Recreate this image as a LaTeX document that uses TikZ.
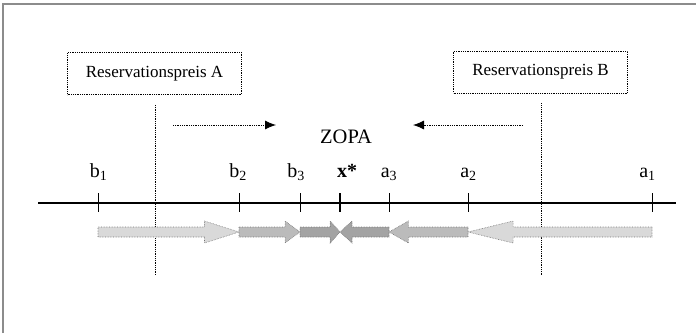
\documentclass[tikz,border=0pt]{standalone}
\usepackage{fontspec}
\setmainfont{Liberation Serif}
\usetikzlibrary{positioning,calc,arrows.meta}
\definecolor{lightfill}{HTML}{D9D9D9}
\definecolor{midfill}{HTML}{BBBBBB}
\definecolor{darkfill}{HTML}{A3A3A3}
\tikzset{
  limitbox/.style   = {draw, densely dotted, line width=0.8pt,
                       minimum width=174pt, minimum height=42pt,
                       font=\fontsize{17}{20}\selectfont},
  limitline/.style  = {densely dotted, line width=0.8pt},
  zopaarrow/.style  = {densely dotted, line width=0.8pt,
                       -{Latex[length=11pt,width=9pt]}},
  blockarrow/.style = {draw=black!55, densely dotted, line width=0.6pt},
  ticklabel/.style  = {anchor=base, inner sep=0pt, font=\fontsize{20}{24}\selectfont},
  axisline/.style   = {line width=1.1pt},
  frameline/.style  = {draw=black!45, line width=2pt},
}
\newcommand{\zoparrow}[3]{%
  \draw[blockarrow, fill=#3]
    ($(#1)+(0,-5)$) -- ($(#1)!0.755!(#2)+(0,-5)$) -- ($(#1)!0.755!(#2)+(0,-11)$)
    -- (#2) -- ($(#1)!0.755!(#2)+(0,11)$) -- ($(#1)!0.755!(#2)+(0,5)$)
    -- ($(#1)+(0,5)$) -- cycle;}

\begin{document}
\begin{tikzpicture}[x=1pt, y=-1pt]
    \useasboundingbox (0,0) rectangle (696,333);
    \draw[frameline] (3,333) -- (3,4) -- (696,4);

    \node [limitbox] (resA) at (154.5,73.5) {Reservationspreis A};
    \node [limitbox] (resB) at (540.5,72)   {Reservationspreis B};
    \coordinate (limA) at (155,275);
    \coordinate (limB) at (541.5,275);
    \draw[limitline] ([yshift=-10pt]resA.south -| limA) -- (limA);
    \draw[limitline] ([yshift=-10pt]resB.south -| limB) -- (limB);

    \node [font=\fontsize{20.5}{24}\selectfont] (zopa) at (346,137) {ZOPA};
    \coordinate (zopaL) at (173,125);
    \coordinate (zopaLtip) at (276,125);
    \coordinate (zopaR) at (523,125);
    \coordinate (zopaRtip) at (413,125);
    \draw[zopaarrow] (zopaL) -- (zopaLtip);
    \draw[zopaarrow] (zopaR) -- (zopaRtip);

    \coordinate (axisL) at (38,203);
    \coordinate (axisR) at (676,203);
    \draw[axisline] (axisL) -- (axisR);

    \foreach \name/\xpos/\lxpos/\txt in {b1/98/98.5/b\textsubscript{1},
        b2/239/238/b\textsubscript{2}, b3/300/296/b\textsubscript{3},
        a3/389/389/a\textsubscript{3}, a2/468/468.5/a\textsubscript{2},
        a1/652/647.5/a\textsubscript{1}}{
      \coordinate (\name) at (\xpos,203);
      \coordinate (r\name) at (\xpos,232);
      \draw[line width=0.9pt] (\name) ++(0,-10) -- ++(0,19);
      \node [ticklabel] (l\name) at (\lxpos,177) {\txt};
    }
    \coordinate (x) at (340,203);
    \coordinate (rx) at (340,232);
    \draw[line width=1.8pt] (x) ++(0,-10) -- ++(0,19);
    \node [ticklabel] (lx) at (347,177) {\textbf{x*}};

    \zoparrow{rb1}{rb2}{lightfill}
    \zoparrow{rb2}{rb3}{midfill}
    \zoparrow{rb3}{rx}{darkfill}
    \zoparrow{ra3}{rx}{darkfill}
    \zoparrow{ra2}{ra3}{midfill}
    \zoparrow{ra1}{ra2}{lightfill}
\end{tikzpicture}
\end{document}
